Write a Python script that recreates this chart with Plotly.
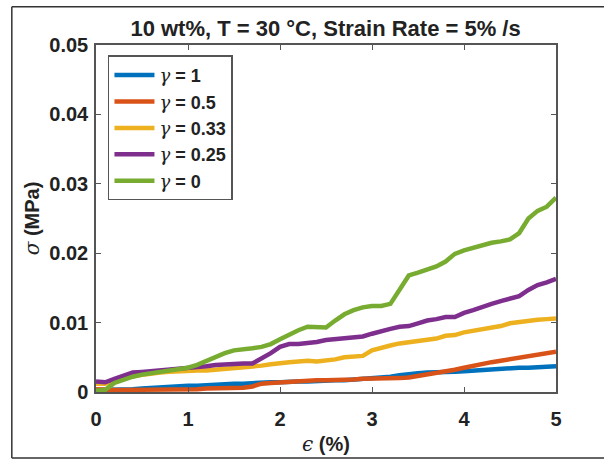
import plotly.graph_objects as go

# Strain axis (%), sampled every 0.1 %
strain = [round(0.1 * i, 1) for i in range(51)]

stress_g1 = [0.0003, 0.0003, 0.0004, 0.0004, 0.0004, 0.0005, 0.0006, 0.0006, 0.0007, 0.0008,
             0.0009, 0.0009, 0.0010, 0.0010, 0.0011, 0.0012, 0.0012, 0.0013, 0.0013, 0.0014,
             0.0014, 0.0015, 0.0015, 0.0015, 0.0016, 0.0016, 0.0017, 0.0017, 0.0018, 0.0018,
             0.0019, 0.0020, 0.0022, 0.0024, 0.0026, 0.0027, 0.0028, 0.0028, 0.0028, 0.0029,
             0.0030, 0.0031, 0.0032, 0.0033, 0.0034, 0.0034, 0.0035, 0.0035, 0.0036, 0.0036,
             0.0037]
stress_g05 = [0.0004, 0.0003, 0.0003, 0.0003, 0.0003, 0.0003, 0.0004, 0.0004, 0.0004, 0.0004,
              0.0004, 0.0004, 0.0005, 0.0005, 0.0005, 0.0005, 0.0006, 0.0008, 0.0012, 0.0013,
              0.0014, 0.0014, 0.0015, 0.0016, 0.0017, 0.0017, 0.0017, 0.0017, 0.0018, 0.0019,
              0.0019, 0.0020, 0.0020, 0.0020, 0.0021, 0.0023, 0.0025, 0.0028, 0.0029, 0.0032,
              0.0035, 0.0038, 0.0041, 0.0043, 0.0045, 0.0047, 0.0050, 0.0052, 0.0054, 0.0056,
              0.0058]
stress_g033 = [0.0012, 0.0012, 0.0017, 0.0021, 0.0023, 0.0025, 0.0026, 0.0028, 0.0029, 0.0030,
               0.0030, 0.0031, 0.0031, 0.0032, 0.0034, 0.0035, 0.0035, 0.0036, 0.0038, 0.0040,
               0.0042, 0.0043, 0.0044, 0.0045, 0.0044, 0.0045, 0.0047, 0.0050, 0.0051, 0.0052,
               0.0060, 0.0064, 0.0067, 0.0070, 0.0072, 0.0073, 0.0075, 0.0077, 0.0081, 0.0082,
               0.0086, 0.0088, 0.0090, 0.0092, 0.0095, 0.0099, 0.0101, 0.0103, 0.0104, 0.0105,
               0.0106]
stress_g025 = [0.0015, 0.0014, 0.0019, 0.0024, 0.0028, 0.0029, 0.0030, 0.0031, 0.0033, 0.0034,
               0.0035, 0.0036, 0.0037, 0.0039, 0.0040, 0.0041, 0.0041, 0.0041, 0.0048, 0.0056,
               0.0065, 0.0069, 0.0069, 0.0070, 0.0072, 0.0075, 0.0076, 0.0077, 0.0078, 0.0080,
               0.0084, 0.0088, 0.0091, 0.0094, 0.0095, 0.0099, 0.0103, 0.0105, 0.0108, 0.0108,
               0.0114, 0.0118, 0.0123, 0.0127, 0.0131, 0.0134, 0.0138, 0.0147, 0.0154, 0.0158,
               0.0163]
stress_g0 = [0.0002, 0.0003, 0.0013, 0.0018, 0.0022, 0.0025, 0.0027, 0.0029, 0.0031, 0.0033,
             0.0035, 0.0039, 0.0045, 0.0051, 0.0056, 0.0060, 0.0061, 0.0063, 0.0065, 0.0069,
             0.0076, 0.0083, 0.0089, 0.0094, 0.0094, 0.0093, 0.0103, 0.0112, 0.0118, 0.0122,
             0.0124, 0.0124, 0.0127, 0.0147, 0.0168, 0.0172, 0.0177, 0.0181, 0.0188, 0.0199,
             0.0204, 0.0208, 0.0212, 0.0215, 0.0217, 0.0220, 0.0229, 0.0250, 0.0261, 0.0267,
             0.0280]

series_labels = ["1", "0.5", "0.33", "0.25", "0"]
series_values = [stress_g1, stress_g05, stress_g033, stress_g025, stress_g0]
series_colors = ["#0072BD", "#D95319", "#EDB120", "#7E2F8E", "#77AC30"]

x_ticks = [0, 1, 2, 3, 4, 5]
y_ticks = [0, 0.01, 0.02, 0.03, 0.04, 0.05]
y_tick_text = ["0", "0.01", "0.02", "0.03", "0.04", "0.05"]

FONT = "Liberation Sans, Arial, sans-serif"
TEXT = "#222222"
AX_COLOR = "#555555"


def greek(ch):
    """Italic serif glyph for math symbols, like TeX output."""
    return f"<span style='font-family:DejaVu Serif;font-style:italic;font-weight:normal'>{ch}</span>"


fig = go.Figure()
for lab, vals, col in zip(series_labels, series_values, series_colors):
    fig.add_trace(go.Scatter(
        x=strain, y=vals, mode="lines",
        name=f"{greek('γ')}<b> = {lab}</b>",
        line=dict(color=col, width=4.5),
    ))

axis_common = dict(
    showline=True, linecolor=AX_COLOR, linewidth=1.5, mirror="ticks",
    ticks="inside", ticklen=5, tickcolor=AX_COLOR, tickwidth=1,
    showgrid=False, zeroline=False, automargin=False,
    tickfont=dict(family=FONT, size=20, color=TEXT, weight="bold"),
)

fig.update_xaxes(range=[0, 5], tickvals=x_ticks, ticktext=[str(t) for t in x_ticks],
                 ticklabelstandoff=8,
                 title=dict(text=f"{greek('ϵ')}<b> (%)</b>", standoff=8,
                            font=dict(family=FONT, size=20, color=TEXT)),
                 **axis_common)
fig.update_yaxes(range=[0, 0.05], tickvals=y_ticks, ticktext=y_tick_text,
                 ticklabelstandoff=2,
                 title=dict(text=f"{greek('σ')}<b> (MPa)</b>", standoff=4,
                            font=dict(family=FONT, size=20, color=TEXT)),
                 **axis_common)

# Outer frame around the figure
frame = dict(type="line", xref="paper", yref="paper",
             line=dict(color="#333333", width=1.5))
fig.add_shape(x0=-0.183, x1=-0.183, y0=-0.19, y1=1.11, **frame)
fig.add_shape(x0=-0.183, x1=1.2, y0=1.11, y1=1.11, **frame)
fig.add_shape(x0=-0.183, x1=1.2, y0=-0.19, y1=-0.19, **frame)

fig.update_layout(
    width=604, height=460,
    margin=dict(l=96, r=48, t=45, b=68),
    paper_bgcolor="white", plot_bgcolor="white",
    title=dict(text="<b>10 wt%, T = 30 °C, Strain Rate = 5% /s</b>",
               x=0.539, xanchor="center", y=0.939, yanchor="middle",
               font=dict(family=FONT, size=22, color=TEXT)),
    legend=dict(x=0.026, y=0.97, xanchor="left", yanchor="top",
                bordercolor="#555555", borderwidth=1.5, bgcolor="white",
                font=dict(family=FONT, size=18, color=TEXT),
                itemwidth=40, tracegroupgap=0),
    showlegend=True,
)

fig.write_html("out.html")
